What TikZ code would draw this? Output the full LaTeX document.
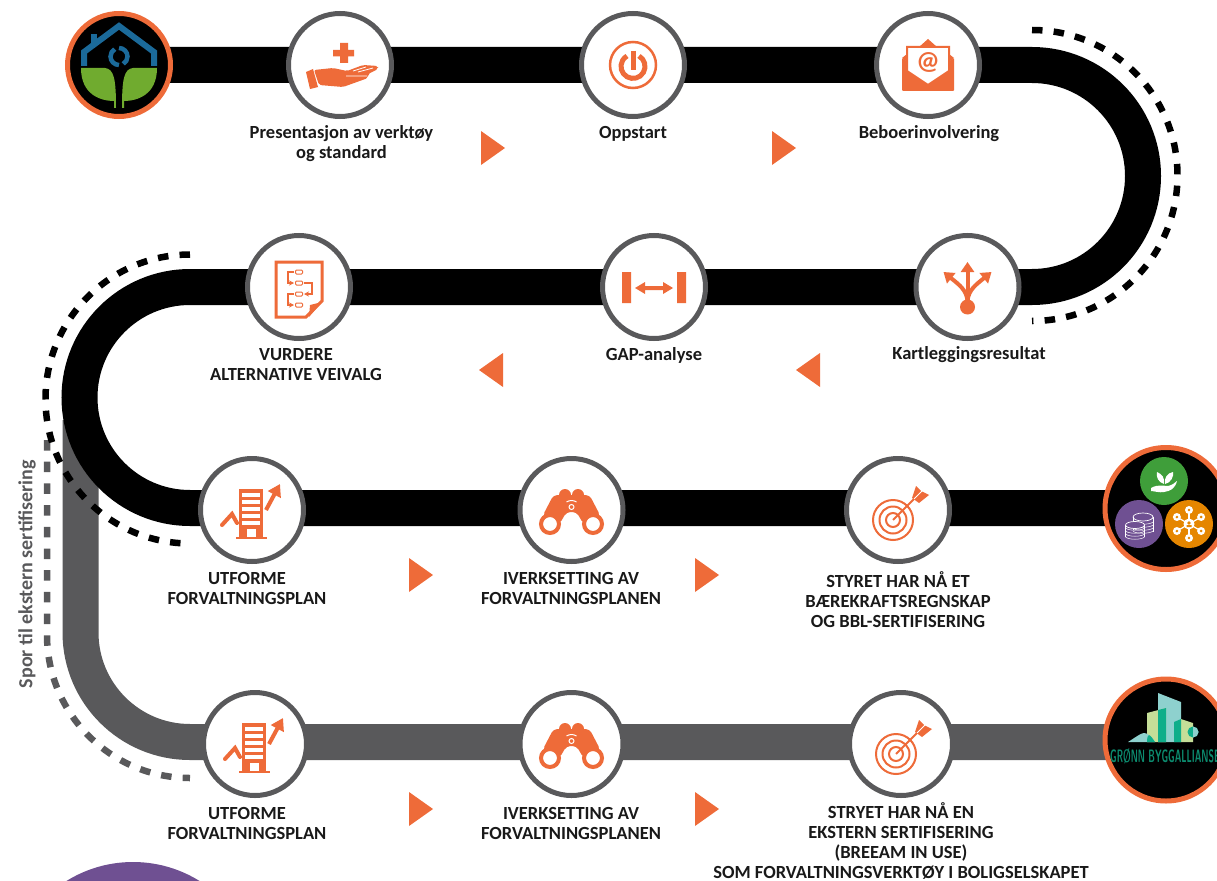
\documentclass[tikz,border=0pt]{standalone}
\usepackage{fontspec}
\setmainfont{Carlito}
\usepackage{tikz}
\usetikzlibrary{arrows.meta}
\usetikzlibrary{backgrounds}

\definecolor{accent}{HTML}{EE6B39}
\definecolor{ringgrey}{HTML}{59595B}
\definecolor{roofblue}{HTML}{1B6A9A}
\definecolor{leafgreen}{HTML}{70AB2F}
\definecolor{coingreen}{HTML}{3F9E3A}
\definecolor{coinpurple}{HTML}{6F5092}
\definecolor{coinorange}{HTML}{E58600}
\definecolor{gbteal}{HTML}{8ED1CE}
\definecolor{gblime}{HTML}{C5DE98}
\definecolor{gbdark}{HTML}{0FAE8A}

\tikzset{
  stepring/.style={circle,draw=ringgrey,fill=white,line width=5pt,minimum size=103pt,inner sep=0pt},
  logoring/.style={circle,draw=accent,fill=black,line width=5pt,minimum size=103pt,inner sep=0pt},
  biglogo/.style={logoring,minimum size=122pt},
  steplabel/.style={font=\bfseries\fontsize{18.5}{20}\selectfont,align=center,text=black!90,inner sep=0pt},
  tracksolid/.style={line width=36pt},
  trackdash/.style={line width=6.5pt,dash pattern=on 10.5pt off 11.2pt},
  pointer/.style={fill=accent},
  % icons used more than once
  buildingicon/.pic={
    \fill[accent] (-13,-21) rectangle (11,28);
    \foreach \sy in {-17,-10,-3,4,11} \fill[white] (-10,\sy) rectangle (8,\sy+4);
    \fill[white] (-5,19) rectangle (4,27);
    \fill[accent] (-16,27) rectangle (15,29);
    \draw[accent,line width=4pt,-{Triangle[length=12pt,width=14pt]}] (14,0) -- (28,-26);
    \draw[accent,line width=4pt,line cap=round] (-30,15) -- (-20,4) -- (-15,13);
  },
  binocularicon/.pic={
    \fill[accent,rounded corners=4pt] (-29,6) -- (-18,-15) -- (18,-15) -- (29,6) -- (12,14) -- (5,2) -- (-5,2) -- (-12,14) -- cycle;
    \fill[accent] (-6.5,-15) circle[radius=6] (6.5,-15) circle[radius=6];
    \draw[accent,line width=4pt,fill=white] (-21.5,14) circle[radius=9] (21.5,14) circle[radius=9];
    \draw[white,line width=1pt] (0,-3) circle[radius=2.5];
    \draw[white,line width=1pt] (-5,-8) .. controls (-2,-10) and (2,-10) .. (5,-8);
  },
  targeticon/.pic={
    \draw[accent,line width=2pt] (-5,10) circle[radius=20] (-5,10) circle[radius=13.5];
    \draw[accent,line width=2pt,fill=white] (-5,10) circle[radius=7];
    \draw[accent,line width=2pt] (-5,10) -- (18,-13);
    \fill[accent] (14,-12) -- (18,-24) -- (23,-19) -- (31,-15) -- (21,-7) -- cycle;
    \draw[white,line width=1pt] (16,-11) -- (25,-20);
  }
}

\begin{document}
\begin{tikzpicture}[x=1pt,y=-1pt]
\useasboundingbox (0,0) rectangle (1217,880);
\clip (0,0) rectangle (1217,880);

% steps, row by row
\node[logoring] (homelogo) at (119,65) {};
\node[stepring] (hand) at (340,65) {};
\node[stepring] (power) at (633,65) {};
\node[stepring] (mail) at (928,65) {};
\node[stepring] (split) at (967.5,287) {};
\node[stepring] (gap) at (654,287) {};
\node[stepring] (flow) at (299,287) {};
\node[stepring] (planA) at (252,510) {};
\node[stepring] (lookA) at (571.5,510) {};
\node[stepring] (aimA) at (898,510) {};
\node[biglogo] (threelogo) at (1166,508.5) {};
\node[stepring] (planB) at (255,744) {};
\node[stepring] (lookB) at (571.5,744) {};
\node[stepring] (aimB) at (901,744) {};
\node[biglogo] (gblogo) at (1166,740) {};

\coordinate (turnA) at (1032,65);
\coordinate (turnB) at (190,287);
\coordinate (turnC) at (80.5,420);
\coordinate (turnD) at (190,508);
\coordinate (turnE) at (190,742);
\coordinate (dashA) at (1032,30);
\coordinate (dashB) at (190,254.5);
\coordinate (dashC) at (47,440);

\begin{scope}[on background layer]
\draw[tracksolid,ringgrey] (turnC) -- (80.5,632.5) arc[start angle=180,end angle=90,radius=109.5] -- (turnE) -- (gblogo.center |- turnE);
\draw[trackdash,ringgrey] (dashC) -- (47,635) arc[start angle=180,end angle=90,radius=143];
\draw[tracksolid] (homelogo.center) -- (hand.center) -- (power.center) -- (mail.center) -- (turnA) arc[start angle=-90,end angle=90,radius=111] -- (split.center) -- (gap.center) -- (flow.center) -- (turnB) arc[start angle=270,end angle=90,radius=110.5] -- (turnD) -- (threelogo.center |- turnD);
\draw[trackdash] (dashA) arc[start angle=-90,end angle=90,radius=145.5];
\draw[trackdash] (dashB) arc[start angle=270,end angle=90,radius=144.5];
\end{scope}

% arrow heads between the steps
\foreach \tx/\ty in {481/131,772/131,409/558,695/558,409/792,695/792}
  \fill[pointer] (\tx,\ty) -- ++(0,34) -- ++(24,-17) -- cycle;
\foreach \tx/\ty in {503/353,820/353}
  \fill[pointer] (\tx,\ty) -- ++(0,34) -- ++(-24,-17) -- cycle;

% labels
\node[steplabel] (handtext) at (341.5,143.5) {Presentasjon av verktøy\\og standard};
\node[steplabel] (powertext) at (633,134) {Oppstart};
\node[steplabel] (mailtext) at (929,134) {Beboerinvolvering};
\node[steplabel] (flowtext) at (296,364.5) {VURDERE\\ALTERNATIVE VEIVALG};
\node[steplabel] (gaptext) at (654,355) {GAP-analyse};
\node[steplabel] (splittext) at (969,355) {Kartleggingsresultat};
\node[steplabel] (planAtext) at (247,588.5) {UTFORME\\FORVALTNINGSPLAN};
\node[steplabel] (lookAtext) at (571,588.5) {IVERKSETTING AV\\FORVALTNINGSPLANEN};
\node[steplabel] (aimAtext) at (898,600) {STYRET HAR NÅ ET\\BÆREKRAFTSREGNSKAP\\OG BBL-SERTIFISERING};
\node[steplabel] (planBtext) at (247,823.5) {UTFORME\\FORVALTNINGSPLAN};
\node[steplabel] (lookBtext) at (571,823.5) {IVERKSETTING AV\\FORVALTNINGSPLANEN};
\node[steplabel] (aimBtext) at (901,841.5) {STRYET HAR NÅ EN\\EKSTERN SERTIFISERING\\(BREEAM IN USE)\\SOM FORVALTNINGSVERKTØY I BOLIGSELSKAPET};
\node[steplabel,font=\bfseries\fontsize{20}{22}\selectfont,text=ringgrey,rotate=90] (sportext) at (27,574) {Spor til ekstern sertifisering};

% home logo
\begin{scope}[shift={(homelogo.center)}]
\draw[roofblue,line width=6pt] (-35,1) -- (-35,-13) -- (0,-39) -- (35,-13) -- (35,1);
\fill[roofblue] (-28,-31) rectangle (-22,-20);
\fill[leafgreen] (-38,3) -- (-14,3) .. controls (-5,4) and (-3,14) .. (-3,43) -- (-5,43) -- (-5,36) .. controls (-18,36) and (-38,30) .. (-38,3) -- cycle;
\fill[leafgreen] (38,3) -- (14,3) .. controls (5,4) and (3,14) .. (3,43) -- (5,43) -- (5,36) .. controls (18,36) and (38,30) .. (38,3) -- cycle;
\draw[roofblue,line width=4.5pt] (0,-17) arc[start angle=-90,end angle=60,radius=8.5];
\draw[roofblue,line width=4.5pt] (0,0) arc[start angle=90,end angle=240,radius=8.5];
\end{scope}

% hand with plus
\begin{scope}[shift={(hand.center)}]
\fill[accent] (-7,-15) rectangle (14,-8.5) (0,-22) rectangle (8,-2);
\fill[accent] (-34,7) -- (-27,4) -- (-22,22) -- (-30,24) -- cycle;
\fill[accent,rounded corners=2pt] (-26,5) -- (-7,3) -- (7,6) -- (23,0) -- (38,1) -- (38,4) -- (28,9) -- (28,13) -- (3,22) -- (-21,20) -- cycle;
\draw[white,line width=.8pt] (6,11) -- (27,11) (13,6) -- (26,2) (18,7) -- (33,3);
\end{scope}

% power button
\begin{scope}[shift={(power.center)}]
\draw[accent,line width=2.5pt] (0,0) circle[radius=23];
\draw[accent,line width=5pt] (6,-9) arc[start angle=-60,end angle=240,radius=12];
\draw[accent,line width=5pt] (0,-14) -- (0,5);
\end{scope}

% envelope
\begin{scope}[shift={(mail.center)}]
\fill[accent,rounded corners=1pt] (-26,-7) -- (0,12) -- (26,-7) -- (26,26) -- (-26,26) -- cycle;
\draw[accent,line width=2pt,fill=white] (-21,6) -- (-21,-18) -- (21,-18) -- (21,6) -- (0,20) -- cycle;
\fill[accent] (-9,-18) -- (0,-26) -- (9,-18) -- cycle;
\fill[accent] (-26,-7) -- (-21,-11) -- (-21,-3) -- cycle (26,-7) -- (21,-11) -- (21,-3) -- cycle;
\node[text=accent,font=\bfseries\fontsize{26}{26}\selectfont,inner sep=0pt] (mailat) at (0,-3) {@};
\end{scope}

% document with flow
\begin{scope}[shift={(flow.center)}]
\draw[accent,line width=3pt,fill=white] (-23,-25) -- (23,-25) -- (23,14) -- (7,30) -- (-23,30) -- cycle;
\fill[accent] (23,15) -- (11,18) -- (10,30) -- cycle;
\foreach \sy in {-15,-4,7,18}
  \draw[accent,line width=1pt,rounded corners=1pt] (-3.5,\sy-2) rectangle (3.5,\sy+2);
\draw[accent,line width=1.2pt,-{Stealth[length=5pt,width=5pt]}] (-5,-15) -- (-11,-15) -- (-11,-4) -- (-5,-4);
\draw[accent,line width=1.2pt,-{Stealth[length=5pt,width=5pt]}] (5,-4) -- (13,-4) -- (13,7) -- (5,7);
\draw[accent,line width=1.2pt,-{Stealth[length=5pt,width=5pt]}] (-5,7) -- (-11,7) -- (-11,18) -- (-5,18);
\end{scope}

% gap bars
\begin{scope}[shift={(gap.center)}]
\fill[accent] (-32,-15) rectangle (-23,16) (23,-15) rectangle (32,16);
\fill[accent] (-19,1) -- (-9,-5) -- (-9,-1) -- (9,-1) -- (9,-5) -- (19,1) -- (9,7) -- (9,3) -- (-9,3) -- (-9,7) -- cycle;
\end{scope}

% three way arrow
\begin{scope}[shift={(split.center)}]
\fill[accent] (0,20) circle[radius=7.5];
\draw[accent,line width=4pt,-{Triangle[length=10pt,width=13pt]}] (0,18) -- (0,-25);
\draw[accent,line width=4pt,-{Triangle[length=10pt,width=13pt]}] (0,14) .. controls (-1,3) and (-8,-2) .. (-24,-15);
\draw[accent,line width=4pt,-{Triangle[length=10pt,width=13pt]}] (0,14) .. controls (1,3) and (8,-2) .. (24,-15);
\end{scope}

\pic at (planA) {buildingicon};
\pic at (planB) {buildingicon};
\pic at (lookA) {binocularicon};
\pic at (lookB) {binocularicon};
\pic at (aimA) {targeticon};
\pic at (aimB) {targeticon};

% logo with three discs
\node[circle,fill=coingreen,minimum size=48pt,inner sep=0pt] (sprout) at (1164,481) {};
\node[circle,fill=coinpurple,minimum size=48pt,inner sep=0pt] (coins) at (1139,524) {};
\node[circle,fill=coinorange,minimum size=48pt,inner sep=0pt] (people) at (1189,524) {};
\begin{scope}[shift={(sprout.center)}]
\fill[white] (-13,7) .. controls (-6,3) and (0,5) .. (4,5) .. controls (8,4) and (11,2) .. (13,0) .. controls (11,8) and (6,10) .. (0,11) .. controls (-5,12) and (-10,10) .. (-13,10) -- cycle;
\fill[white] (0,3) .. controls (-6,1) and (-8,-4) .. (-7,-9) .. controls (-2,-7) and (1,-3) .. (0,3) -- cycle;
\fill[white] (1,3) .. controls (7,2) and (10,-5) .. (9,-9) .. controls (3,-8) and (0,-3) .. (1,3) -- cycle;
\end{scope}
\begin{scope}[shift={(coins.center)}]
\foreach \sy in {-2,1,4,7}
  \draw[white,line width=.5pt] (-6,\sy) .. controls (-4,\sy+3) and (11,\sy+3) .. (14,\sy);
\draw[white,line width=.7pt] (4,-7) ellipse[x radius=10,y radius=4];
\draw[white,line width=.7pt] (-6,-7) -- (-6,6) (14,-7) -- (14,8);
\draw[white,line width=.7pt,fill=coinpurple] (-4,1) ellipse[x radius=9.5,y radius=3.5];
\foreach \sy in {4,7,10,13}
  \draw[white,line width=.5pt] (-13.5,\sy) .. controls (-10,\sy+3) and (2,\sy+3) .. (5.5,\sy);
\draw[white,line width=.7pt] (-13.5,1) -- (-13.5,13) (5.5,1) -- (5.5,13);
\end{scope}
\begin{scope}[shift={(people.center)}]
\foreach \ang in {-90,-30,30,90,150,210} {
  \draw[white,line width=1.2pt] (0,0) -- (\ang:14);
  \fill[white] (\ang:14) circle[radius=4];
  \fill[coinorange] (\ang:14) circle[radius=1.4];
}
\fill[white] (0,0) circle[radius=5.5];
\fill[coinorange] (0,-1) circle[radius=1.8] (-2.5,1) rectangle (2.5,3);
\end{scope}

% green building logo
\begin{scope}[shift={(gblogo.center)}]
\fill[gbteal] (-8,-47) -- (15,-38) -- (15,2) -- (-8,2) -- cycle;
\fill[gblime] (-19,-27) -- (0,-32) -- (0,2) -- (-19,2) -- cycle;
\fill[gbdark] (-8,-30) -- (0,-32) -- (0,2) -- (-8,2) -- cycle;
\fill[gblime] (15,-21) -- (27,-17) -- (27,2) -- (15,2) -- cycle;
\fill[gbdark] (8,-18) -- (15,-21) -- (15,2) -- (8,2) -- cycle;
\fill[gbdark] (27,-8) circle[radius=5.5];
\fill[gbteal] (27,-13.5) arc[start angle=-90,end angle=90,radius=5.5] -- cycle;
\fill[gbteal] (-38,2) .. controls (-30,-3) and (-25,-7) .. (-22,-7) .. controls (-18,-7) and (-14,-3) .. (-11,2) -- cycle;
\fill[gbdark] (-19,2) .. controls (-19,-3) and (-18,-5) .. (-17,-5) .. controls (-15,-4) and (-13,-1) .. (-11,2) -- cycle;
\end{scope}
\node[text=gbdark!80!black,font=\fontsize{18}{18}\selectfont\sffamily\bfseries,xscale=.5,inner sep=0pt] (gbtext) at (1165,756) {GRØNN BYGGALLIANSE};

% purple disc at the foot of the page
\fill[coinpurple] (133,988) circle[radius=126];
\end{tikzpicture}
\end{document}
